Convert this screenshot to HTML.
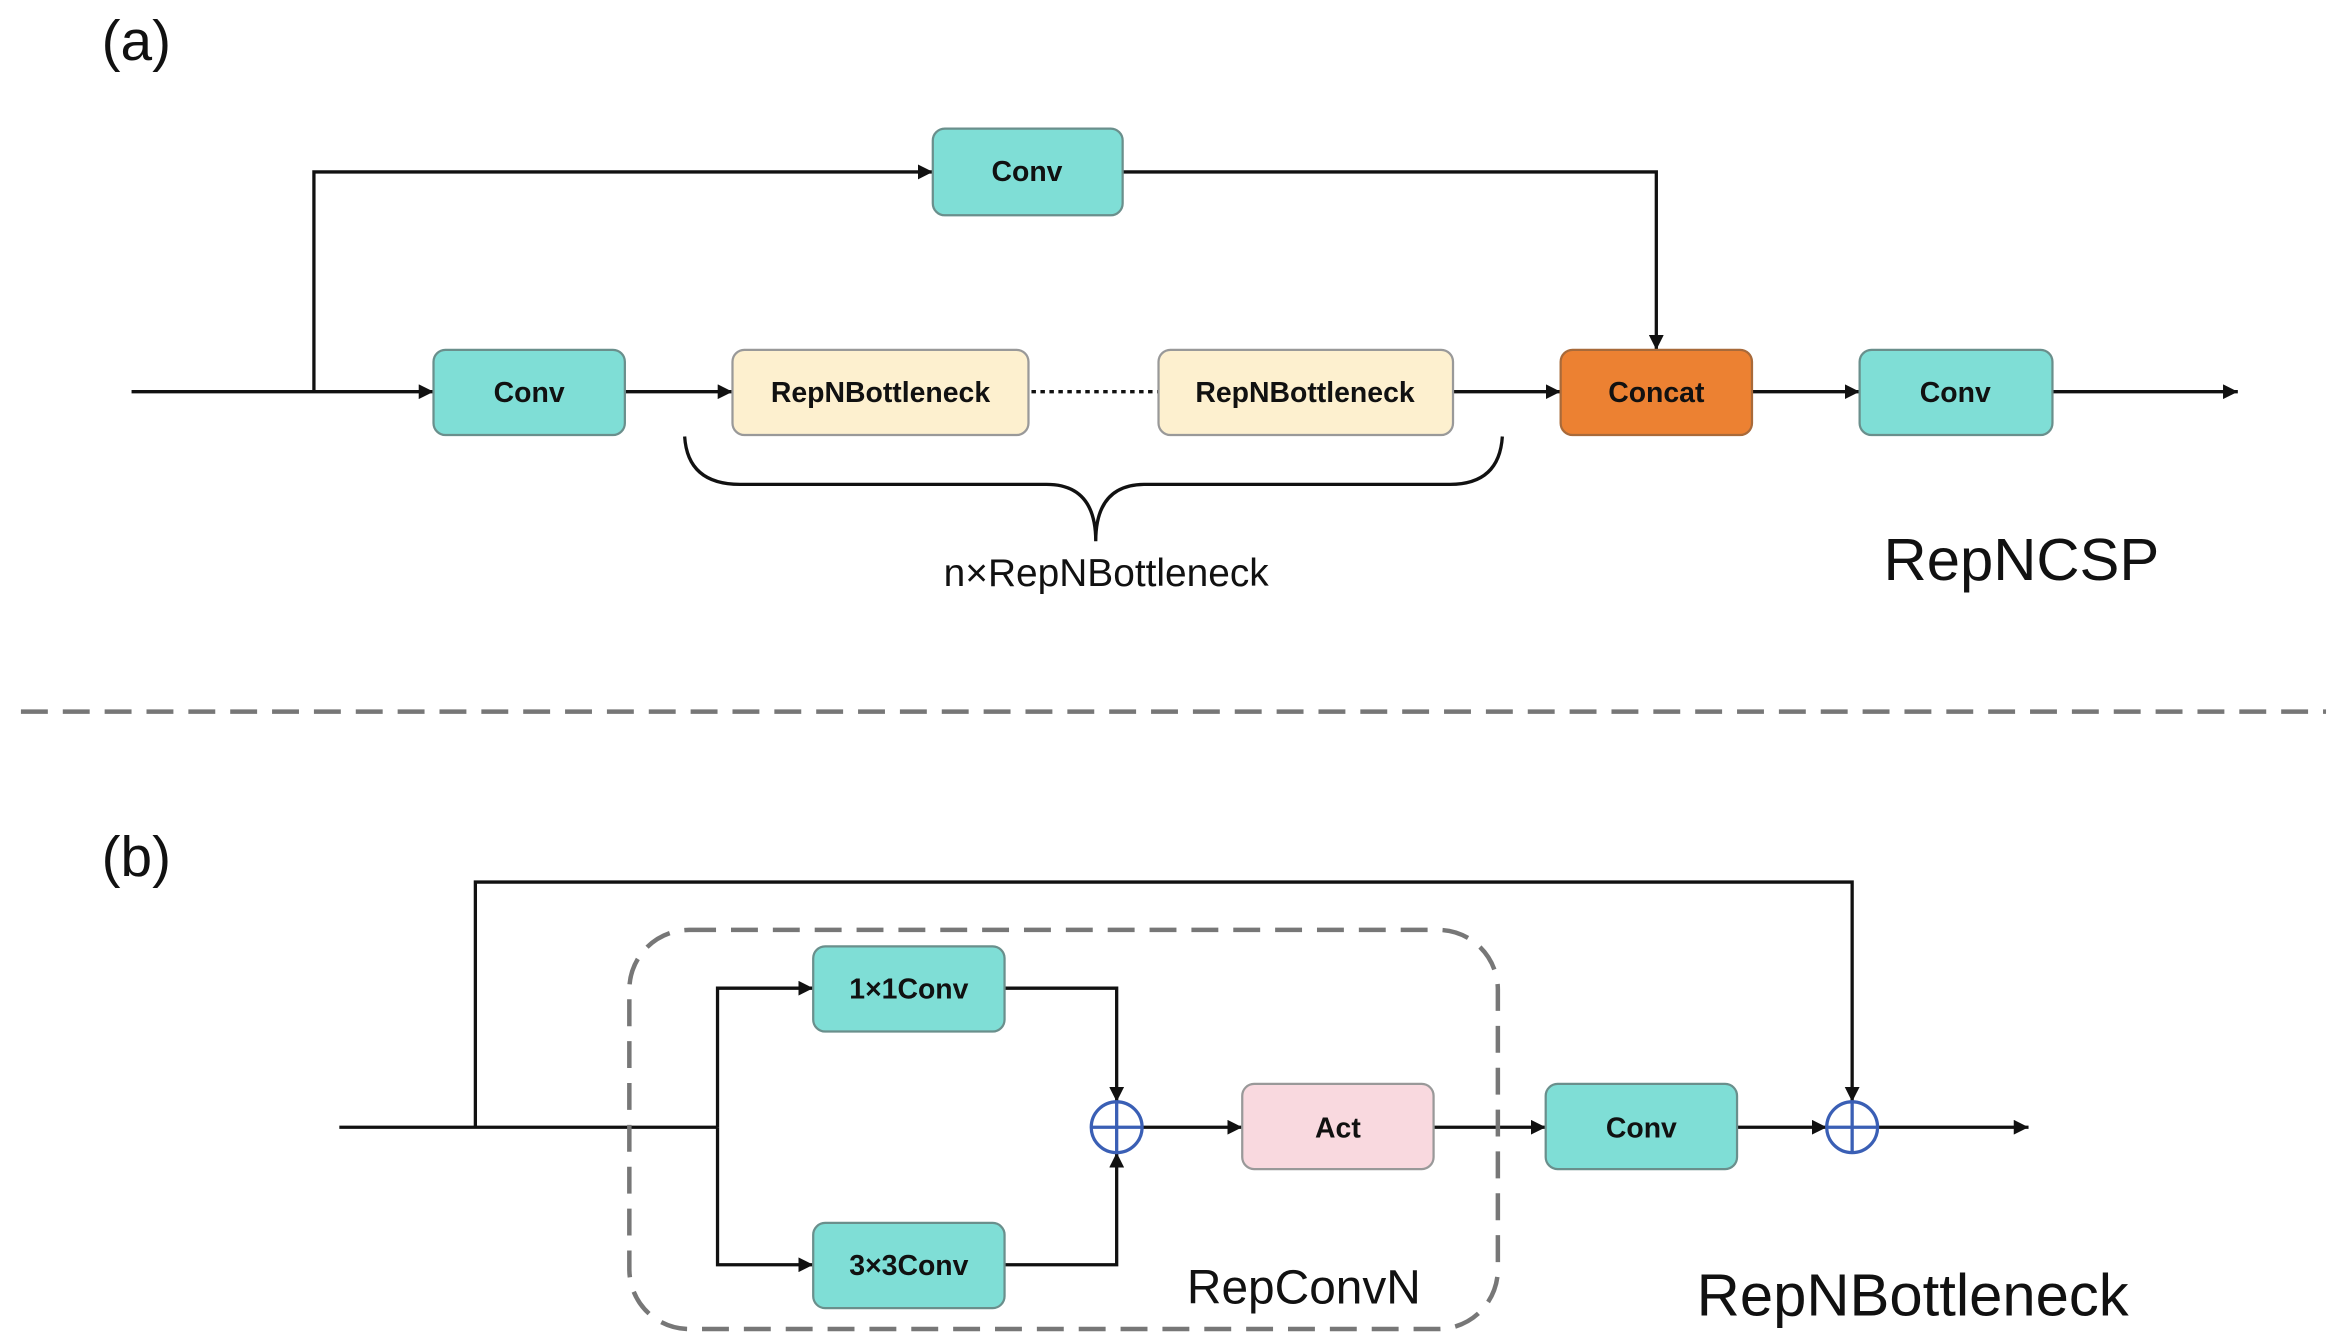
<!DOCTYPE html>
<html><head><meta charset="utf-8"><style>html,body{margin:0;padding:0;background:#fff}svg{display:block}</style></head>
<body>
<svg width="2332" height="1344" viewBox="0 0 1560 899" preserveAspectRatio="none" xmlns="http://www.w3.org/2000/svg" font-family="Liberation Sans, sans-serif">
<defs>
<marker id="ar" viewBox="0 0 10 10" refX="10" refY="5" markerWidth="4.5" markerHeight="4.5" orient="auto"><path d="M0,0 L10,5 L0,10 z" fill="#111"/></marker>
</defs>
<g stroke="#111" stroke-width="2.2" fill="none">
<!-- (a) -->
<path d="M88,262 H290" marker-end="url(#ar)"/>
<path d="M210,262 V115 H624" marker-end="url(#ar)"/>
<path d="M418,262 H490" marker-end="url(#ar)"/>
<path d="M690,262 H775" stroke-dasharray="3,3"/>
<path d="M972,262 H1044" marker-end="url(#ar)"/>
<path d="M751,115 H1108 V234" marker-end="url(#ar)"/>
<path d="M1172,262 H1244" marker-end="url(#ar)"/>
<path d="M1373,262 H1497" marker-end="url(#ar)"/>
<path d="M458,292 Q460,324 495,324 H700 Q733,324 733,362 Q733,324 766,324 H970 Q1003,324 1005,292"/>
<!-- (b) -->
<path d="M227,754 H480"/>
<path d="M318,754 V590 H1239 V737" marker-end="url(#ar)"/>
<path d="M480,754 V661 H544" marker-end="url(#ar)"/>
<path d="M480,754 V846 H544" marker-end="url(#ar)"/>
<path d="M672,661 H747 V737" marker-end="url(#ar)"/>
<path d="M672,846 H747 V771" marker-end="url(#ar)"/>
<path d="M764,754 H831" marker-end="url(#ar)"/>
<path d="M959,754 H1034" marker-end="url(#ar)"/>
<path d="M1162,754 H1222" marker-end="url(#ar)"/>
<path d="M1256,754 H1357" marker-end="url(#ar)"/>
</g>
<line x1="14" y1="476" x2="1556" y2="476" stroke="#777" stroke-width="3" stroke-dasharray="18,10"/>
<rect x="421" y="622" width="581" height="267" rx="40" fill="none" stroke="#777" stroke-width="3" stroke-dasharray="18,10"/>
<g stroke="#3a5fb5" stroke-width="2.2" fill="#fff">
<circle cx="747" cy="754" r="17"/><path d="M730,754 H764 M747,737 V771" fill="none"/>
<circle cx="1239" cy="754" r="17"/><path d="M1222,754 H1256 M1239,737 V771" fill="none"/>
</g>
<g stroke="#6a8f8c" stroke-width="1.5">
<rect x="624" y="86" width="127" height="58" rx="8" fill="#7fded6"/>
<rect x="290" y="234" width="128" height="57" rx="8" fill="#7fded6"/>
<rect x="490" y="234" width="198" height="57" rx="8" fill="#fdf0cf" stroke="#999"/>
<rect x="775" y="234" width="197" height="57" rx="8" fill="#fdf0cf" stroke="#999"/>
<rect x="1044" y="234" width="128" height="57" rx="8" fill="#ec8132" stroke="#a86a3a"/>
<rect x="1244" y="234" width="129" height="57" rx="8" fill="#7fded6"/>
<rect x="544" y="633" width="128" height="57" rx="8" fill="#7fded6"/>
<rect x="544" y="818" width="128" height="57" rx="8" fill="#7fded6"/>
<rect x="831" y="725" width="128" height="57" rx="8" fill="#f9d9df" stroke="#999"/>
<rect x="1034" y="725" width="128" height="57" rx="8" fill="#7fded6"/>
</g>
<g font-weight="bold" font-size="19" text-anchor="middle" fill="#111">
<text x="687" y="121">Conv</text>
<text x="354" y="269">Conv</text>
<text x="589" y="269">RepNBottleneck</text>
<text x="873" y="269">RepNBottleneck</text>
<text x="1108" y="269">Concat</text>
<text x="1308" y="269">Conv</text>
<text x="608" y="668">1×1Conv</text>
<text x="608" y="853">3×3Conv</text>
<text x="895" y="761">Act</text>
<text x="1098" y="761">Conv</text>
</g>
<g fill="#111">
<text x="68" y="40" font-size="38">(a)</text>
<text x="68" y="586" font-size="38">(b)</text>
<text x="740" y="392" font-size="26" text-anchor="middle">n×RepNBottleneck</text>
<text x="1260" y="388" font-size="40">RepNCSP</text>
<text x="794" y="872" font-size="32">RepConvN</text>
<text x="1135" y="880" font-size="40">RepNBottleneck</text>
</g>
</svg>
</body></html>
